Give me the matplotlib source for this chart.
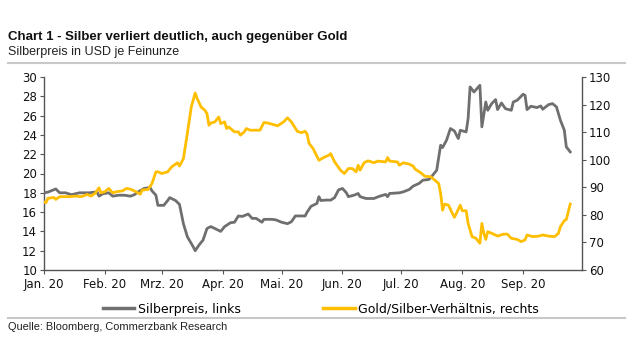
import matplotlib
matplotlib.use("Agg")
import matplotlib.pyplot as plt
import pandas as pd
from matplotlib.lines import Line2D

title = "Chart 1 - Silber verliert deutlich, auch gegenüber Gold"
subtitle = "Silberpreis in USD je Feinunze"
source = "Quelle: Bloomberg, Commerzbank Research"
silver_label = "Silberpreis, links"
ratio_label = "Gold/Silber-Verhältnis, rechts"

month_ticks = ["2020-01-01", "2020-02-01", "2020-03-01", "2020-04-01", "2020-05-01",
               "2020-06-01", "2020-07-01", "2020-08-01", "2020-09-01"]
month_labels = ["Jan. 20", "Feb. 20", "Mrz. 20", "Apr. 20", "Mai. 20",
                "Jun. 20", "Jul. 20", "Aug. 20", "Sep. 20"]

silver_dates = [
    "2020-01-01", "2020-01-03", "2020-01-07", "2020-01-09", "2020-01-12", "2020-01-15",
    "2020-01-19", "2020-01-24", "2020-01-28", "2020-01-29", "2020-01-31", "2020-02-03",
    "2020-02-05", "2020-02-08", "2020-02-11", "2020-02-14", "2020-02-16", "2020-02-18",
    "2020-02-21", "2020-02-24", "2020-02-25", "2020-02-27", "2020-02-28", "2020-03-02",
    "2020-03-04", "2020-03-05", "2020-03-08", "2020-03-10", "2020-03-12", "2020-03-14",
    "2020-03-17", "2020-03-18", "2020-03-20", "2020-03-22", "2020-03-24", "2020-03-26",
    "2020-03-30", "2020-03-31", "2020-04-02", "2020-04-05", "2020-04-07", "2020-04-09",
    "2020-04-11", "2020-04-14", "2020-04-16", "2020-04-18", "2020-04-21", "2020-04-22",
    "2020-04-26", "2020-04-28", "2020-05-01", "2020-05-04", "2020-05-06", "2020-05-08",
    "2020-05-13", "2020-05-14", "2020-05-16", "2020-05-19", "2020-05-20", "2020-05-21",
    "2020-05-24", "2020-05-26", "2020-05-28", "2020-05-30", "2020-06-01", "2020-06-03",
    "2020-06-04", "2020-06-07", "2020-06-09", "2020-06-10", "2020-06-13", "2020-06-17",
    "2020-06-20", "2020-06-23", "2020-06-24", "2020-06-25", "2020-06-30", "2020-07-02",
    "2020-07-05", "2020-07-07", "2020-07-10", "2020-07-12", "2020-07-15", "2020-07-17",
    "2020-07-19", "2020-07-21", "2020-07-22", "2020-07-24", "2020-07-26", "2020-07-28",
    "2020-07-30", "2020-07-31", "2020-08-03", "2020-08-04", "2020-08-05", "2020-08-07",
    "2020-08-10", "2020-08-11", "2020-08-13", "2020-08-14", "2020-08-16", "2020-08-18",
    "2020-08-19", "2020-08-21", "2020-08-23", "2020-08-26", "2020-08-27", "2020-08-29",
    "2020-09-01", "2020-09-02", "2020-09-03", "2020-09-05", "2020-09-08", "2020-09-10",
    "2020-09-11", "2020-09-14", "2020-09-16", "2020-09-18", "2020-09-20", "2020-09-22",
    "2020-09-23", "2020-09-25",
]
silver_values = [
    18.0, 18.07, 18.4, 18.0, 18.0, 17.8,
    18.0, 18.0, 18.1, 17.65, 17.9, 18.0,
    17.65, 17.75, 17.75, 17.65, 17.8, 18.1,
    18.45, 18.55, 18.2, 17.75, 16.7, 16.7,
    17.2, 17.5, 17.2, 16.8, 14.8, 13.45,
    12.4, 12.0, 12.6, 13.1, 14.3, 14.5,
    14.1, 14.0, 14.5, 14.9, 14.95, 15.6,
    15.55, 15.8, 15.35, 15.35, 14.95, 15.25,
    15.25, 15.2, 14.95, 14.8, 15.0, 15.6,
    15.6, 16.0, 16.6, 16.9, 17.6, 17.2,
    17.25, 17.24, 17.5, 18.3, 18.45, 18.0,
    17.6, 17.76, 17.93, 17.6, 17.41, 17.41,
    17.65, 17.83, 17.6, 17.93, 18.0, 18.1,
    18.34, 18.69, 18.97, 19.31, 19.38, 19.83,
    20.34, 22.93, 22.69, 23.45, 24.66, 24.41,
    23.62, 24.48, 24.31, 25.69, 28.97, 28.45,
    29.14, 24.83, 27.41, 26.55, 27.24, 27.66,
    26.62, 27.31, 26.72, 26.55, 27.41, 27.59,
    28.21, 28.1, 26.62, 26.97, 26.83, 27.0,
    26.66, 27.14, 27.24, 26.9, 25.52, 24.48,
    22.76, 22.24,
]

ratio_dates = [
    "2020-01-01", "2020-01-02", "2020-01-03", "2020-01-06", "2020-01-07", "2020-01-09",
    "2020-01-14", "2020-01-17", "2020-01-20", "2020-01-23", "2020-01-25", "2020-01-27",
    "2020-01-29", "2020-01-30", "2020-02-01", "2020-02-03", "2020-02-05", "2020-02-07",
    "2020-02-10", "2020-02-12", "2020-02-14", "2020-02-16", "2020-02-19", "2020-02-20",
    "2020-02-23", "2020-02-25", "2020-02-27", "2020-02-28", "2020-03-01", "2020-03-04",
    "2020-03-06", "2020-03-09", "2020-03-10", "2020-03-12", "2020-03-14", "2020-03-16",
    "2020-03-18", "2020-03-19", "2020-03-21", "2020-03-23", "2020-03-24", "2020-03-25",
    "2020-03-26", "2020-03-28", "2020-03-30", "2020-03-31", "2020-04-02", "2020-04-03",
    "2020-04-04", "2020-04-07", "2020-04-09", "2020-04-10", "2020-04-12", "2020-04-13",
    "2020-04-15", "2020-04-20", "2020-04-22", "2020-04-24", "2020-04-29", "2020-05-02",
    "2020-05-04", "2020-05-06", "2020-05-09", "2020-05-11", "2020-05-13", "2020-05-14",
    "2020-05-15", "2020-05-17", "2020-05-20", "2020-05-23", "2020-05-25", "2020-05-26",
    "2020-05-28", "2020-05-31", "2020-06-02", "2020-06-04", "2020-06-06", "2020-06-08",
    "2020-06-09", "2020-06-10", "2020-06-12", "2020-06-14", "2020-06-17", "2020-06-19",
    "2020-06-23", "2020-06-24", "2020-06-25", "2020-06-29", "2020-06-30", "2020-07-02",
    "2020-07-05", "2020-07-07", "2020-07-08", "2020-07-11", "2020-07-13", "2020-07-16",
    "2020-07-17", "2020-07-20", "2020-07-21", "2020-07-22", "2020-07-23", "2020-07-25",
    "2020-07-27", "2020-07-28", "2020-07-29", "2020-07-31", "2020-08-01", "2020-08-03",
    "2020-08-04", "2020-08-06", "2020-08-08", "2020-08-10", "2020-08-11", "2020-08-12",
    "2020-08-13", "2020-08-14", "2020-08-17", "2020-08-19", "2020-08-22", "2020-08-24",
    "2020-08-26", "2020-08-29", "2020-08-31", "2020-09-02", "2020-09-03", "2020-09-06",
    "2020-09-09", "2020-09-11", "2020-09-14", "2020-09-17", "2020-09-19", "2020-09-20",
    "2020-09-22", "2020-09-23", "2020-09-25",
]
ratio_values = [
    84.7, 84.4, 86.0, 86.3, 85.6, 86.6,
    86.6, 86.8, 86.6, 87.4, 86.8, 87.8,
    89.8, 88.0, 88.4, 89.6, 88.0, 88.4,
    88.7, 89.6, 89.3, 88.7, 87.5, 89.0,
    89.2, 91.4, 95.6, 95.6, 95.0, 95.6,
    97.4, 98.9, 97.7, 100.4, 109.5, 119.1,
    124.2, 122.2, 119.1, 117.9, 116.7, 112.5,
    113.3, 113.7, 115.5, 113.1, 113.7, 111.3,
    111.9, 110.1, 110.1, 108.9, 110.1, 111.3,
    110.7, 110.7, 113.5, 113.3, 112.3, 113.7,
    115.2, 113.7, 110.3, 109.8, 110.3, 109.3,
    105.9, 104.1, 99.8, 101.0, 101.6, 102.2,
    99.2, 96.2, 95.0, 96.8, 96.8, 95.6,
    98.0, 96.2, 98.9, 99.6, 98.9, 99.5,
    99.2, 100.8, 99.5, 99.2, 98.0, 98.9,
    98.4, 97.7, 96.6, 95.2, 94.0, 93.8,
    93.2, 91.4, 87.8, 81.7, 83.9, 83.5,
    80.5, 79.1, 80.5, 83.5, 81.5, 81.5,
    76.9, 72.1, 71.5, 69.7, 76.9, 73.3,
    71.1, 73.9, 73.0, 72.3, 73.0, 73.0,
    71.5, 71.1, 70.3, 70.9, 72.7, 72.1,
    72.3, 72.7, 72.3, 72.1, 73.3, 75.7,
    77.9, 78.3, 83.9,
]

GRAY = "#6f6f6f"
YELLOW = "#FFBF00"
AXC = "#555555"

plt.rcParams["font.family"] = ["DejaVu Sans"]

fig = plt.figure(figsize=(6.4, 3.6), dpi=100)
ax = fig.add_axes([44 / 640, 90 / 360, 538 / 640, 193 / 360])
ax2 = ax.twinx()

sd = pd.to_datetime(silver_dates)
rd = pd.to_datetime(ratio_dates)
ax.plot(sd, silver_values, color=GRAY, lw=2.0, solid_joinstyle="round", zorder=3)
ax2.plot(rd, ratio_values, color=YELLOW, lw=2.0, solid_joinstyle="round", zorder=3)

ax.set_xlim(pd.Timestamp("2020-01-01"), pd.Timestamp("2020-10-01"))
ax.set_ylim(10, 30)
ax2.set_ylim(60, 130)
ax.set_yticks(range(10, 31, 2))
ax2.set_yticks(range(60, 131, 10))
ax.set_xticks(pd.to_datetime(month_ticks))
ax.set_xticklabels(month_labels)

for a in (ax, ax2):
    a.spines["top"].set_visible(False)
    for s in ("left", "right", "bottom"):
        a.spines[s].set_color(AXC)
        a.spines[s].set_linewidth(1.0)
    a.tick_params(axis="both", direction="out", length=3, width=0.8, color=AXC,
                  labelsize=8.5, labelcolor="#111111", pad=2)
ax.tick_params(axis="x", pad=3)
ax2.spines["left"].set_visible(False)
ax.spines["right"].set_visible(False)
ax2.spines["bottom"].set_visible(False)

SANS = ["Liberation Sans", "DejaVu Sans"]
fig.text(8 / 640, 1 - 37 / 360, title, fontsize=9.5, fontweight="bold", va="center",
         ha="left", color="#111111", family=SANS)
fig.text(8 / 640, 1 - 52 / 360, subtitle, fontsize=9, va="center", ha="left",
         color="#222222", family=SANS)
fig.text(8 / 640, 1 - 327 / 360, source, fontsize=7.9, va="center", ha="left",
         color="#222222", family=SANS)
fig.add_artist(Line2D([8 / 640, 625 / 640], [1 - 63 / 360, 1 - 63 / 360],
                      color="#c8c8c8", lw=1.5, transform=fig.transFigure))
fig.add_artist(Line2D([8 / 640, 625 / 640], [1 - 318 / 360, 1 - 318 / 360],
                      color="#c8c8c8", lw=1.5, transform=fig.transFigure))

handles = [Line2D([], [], color=GRAY, lw=2.5), Line2D([], [], color=YELLOW, lw=2.5)]
fig.legend(handles, [silver_label, ratio_label], loc="center left",
           bbox_to_anchor=(103 / 640, 1 - 309 / 360), ncol=2, frameon=False,
           fontsize=9, handlelength=2.5, handletextpad=0.3, columnspacing=6.6,
           borderaxespad=0, borderpad=0)

fig.savefig("out.png", dpi=100)
